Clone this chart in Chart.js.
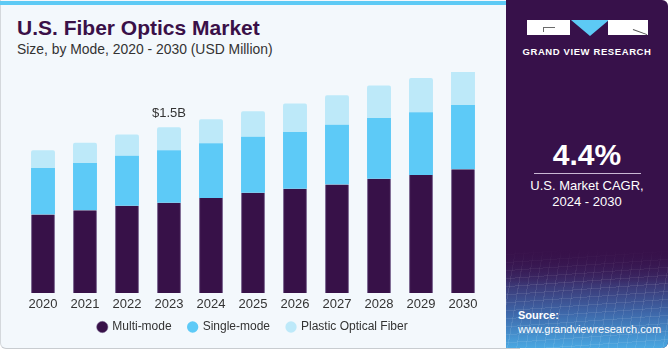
<!DOCTYPE html>
<html>
<head>
<meta charset="utf-8">
<script src="https://cdn.jsdelivr.net/npm/chart.js@4"></script>
<style>
  html, body { margin: 0; padding: 0; }
  body { width: 671px; height: 350px; position: relative; overflow: hidden; background: #ffffff; font-family: "Liberation Sans", Arial, sans-serif; }
  #left { position: absolute; left: 0; top: 0; width: 520px; height: 349px; background: #f3f8fc; border-left: 1px solid #d4d8dc; border-bottom: 1px solid #c8ccd0; border-radius: 0 0 0 6px; box-sizing: border-box; }
  #strip { position: absolute; left: 0; top: 1px; width: 520px; height: 4px; background: #5dcaf5; }
  #title { position: absolute; left: 17px; top: 16px; font-size: 21px; font-weight: bold; color: #3a1048; white-space: nowrap; }
  #subtitle { position: absolute; left: 17px; top: 41px; font-size: 13.9px; color: #333333; white-space: nowrap; }
  #wrap { position: absolute; left: 0; top: 0; width: 506px; height: 350px; }
  #panel { position: absolute; left: 506px; top: 0; width: 162px; height: 348px; background: #37114a; border-radius: 0 6px 6px 0; overflow: hidden; z-index: 1; }
  #mesh { position: absolute; left: 0; top: 250px; width: 162px; height: 98px;
    background:
      linear-gradient(180deg, #37114a 0%, rgba(55,17,74,0) 35%),
      repeating-linear-gradient(100deg, rgba(255,255,255,0.09) 0 1px, transparent 1px 9px),
      repeating-linear-gradient(-4deg, rgba(255,255,255,0.09) 0 1px, transparent 1px 8px),
      linear-gradient(180deg, #37114a 0%, #3b2d6a 30%, #3e68aa 65%, #4aa8e2 100%); }
  .blk { position: absolute; top: 20px; height: 15px; background: #ffffff; }
  #tri { position: absolute; left: 65px; top: 20px; width: 0; height: 0; border-left: 19px solid transparent; border-right: 19px solid transparent; border-top: 16px solid #5dcaf5; }
  #gvr { position: absolute; left: 0; width: 162px; top: 46px; text-align: center; color: #ffffff; font-size: 9.5px; font-weight: bold; letter-spacing: 0.6px; }
  #cagr { position: absolute; left: 0; width: 162px; top: 138px; text-align: center; color: #ffffff; font-size: 30px; font-weight: bold; }
  #rule { position: absolute; left: 28px; top: 173px; width: 107px; height: 1px; background: #c9b8d4; }
  #cagrtxt { position: absolute; left: 0; width: 162px; top: 178px; text-align: center; color: #ffffff; font-size: 13px; line-height: 16px; }
  #src { position: absolute; left: 12px; top: 308px; color: #ffffff; font-size: 11px; line-height: 14px; }
</style>
</head>
<body>
<div id="left"></div>
<div id="strip"></div>
<div id="title">U.S. Fiber Optics Market</div>
<div id="subtitle">Size, by Mode, 2020 - 2030 (USD Million)</div>
<div id="wrap"><canvas id="chart"></canvas></div>
<div id="panel">
  <div id="mesh"></div>
  <div class="blk" style="left:21px;width:43px;"></div>
  <div style="position:absolute;left:37px;top:27px;width:12px;height:1px;background:#6b6b6b;"></div>
  <div style="position:absolute;left:37px;top:27px;width:1px;height:5px;background:#6b6b6b;"></div>
  <div id="tri"></div>
  <div class="blk" style="left:102px;width:40px;"></div>
  <div style="position:absolute;left:127px;top:29px;width:15px;height:1px;background:#555555;transform:rotate(20deg);transform-origin:left center;"></div>
  <div id="gvr">GRAND VIEW RESEARCH</div>
  <div id="cagr">4.4%</div>
  <div id="rule"></div>
  <div id="cagrtxt">U.S. Market CAGR,<br>2024 - 2030</div>
  <div id="src"><b>Source:</b><br>www.grandviewresearch.com</div>
</div>

<script>
// values in USD million
var years = ['2020', '2021', '2022', '2023', '2024', '2025', '2026', '2027', '2028', '2029', '2030'];
var multiMode = [711, 748, 789, 816, 859, 907, 943, 983, 1033, 1069, 1121];
var singleMode = [421, 428, 452, 476, 497, 506, 515, 539, 551, 567, 581];
var plasticFiber = [160, 184, 193, 208, 217, 232, 257, 268, 293, 310, 320];
var calloutIndex = 3;
var calloutText = '$1.5B';

var callout = {
  id: 'callout',
  afterDatasetsDraw: function(chart) {
    var ctx = chart.ctx;
    var i = calloutIndex;
    var total = multiMode[i] + singleMode[i] + plasticFiber[i];
    var x = chart.scales.x.getPixelForValue(i);
    var y = chart.scales.y.getPixelForValue(total);
    ctx.save();
    ctx.fillStyle = '#333333';
    ctx.font = '13px "Liberation Sans", Arial, sans-serif';
    ctx.textAlign = 'center';
    ctx.textBaseline = 'bottom';
    ctx.fillText(calloutText, x, y - 7);
    ctx.restore();
  }
};

// pull the legend up a little, closer to the year labels
var legendNudge = {
  id: 'legendNudge',
  afterLayout: function(chart) {
    chart.legend.top -= 7;
    chart.legend.bottom -= 7;
  }
};

new Chart(document.getElementById('chart'), {
  type: 'bar',
  data: {
    labels: years,
    datasets: [{
      label: 'Multi-mode',
      data: multiMode,
      backgroundColor: '#371148',
      borderColor: '#7a6690',
      borderWidth: { left: 1, right: 1, top: 0, bottom: 0 }
    }, {
      label: 'Single-mode',
      data: singleMode,
      backgroundColor: '#5dcaf7'
    }, {
      label: 'Plastic Optical Fiber',
      data: plasticFiber,
      backgroundColor: '#bde9f9',
      borderRadius: { topLeft: 2, topRight: 2 }
    }]
  },
  options: {
    responsive: true,
    maintainAspectRatio: false,
    animation: false,
    layout: { padding: { left: 22, right: 22, top: 72, bottom: 0 } },
    datasets: { bar: { categoryPercentage: 1, barPercentage: 0.57 } },
    scales: {
      x: {
        stacked: true,
        grid: { display: false, drawTicks: false },
        border: { display: false },
        ticks: { color: '#333333', font: { size: 13, family: '"Liberation Sans", Arial, sans-serif' }, padding: 4, maxRotation: 0, autoSkip: false },
        afterFit: function(scale) { scale.height = 18; }
      },
      y: {
        stacked: true,
        display: false,
        min: 0,
        max: 2000
      }
    },
    plugins: {
      legend: {
        position: 'bottom',
        labels: {
          usePointStyle: true,
          pointStyle: 'circle',
          boxWidth: 8,
          boxHeight: 8,
          padding: 17,
          color: '#333333',
          font: { size: 12, family: '"Liberation Sans", Arial, sans-serif' }
        }
      },
      tooltip: { enabled: false }
    }
  },
  plugins: [callout, legendNudge]
});
</script>
</body>
</html>
